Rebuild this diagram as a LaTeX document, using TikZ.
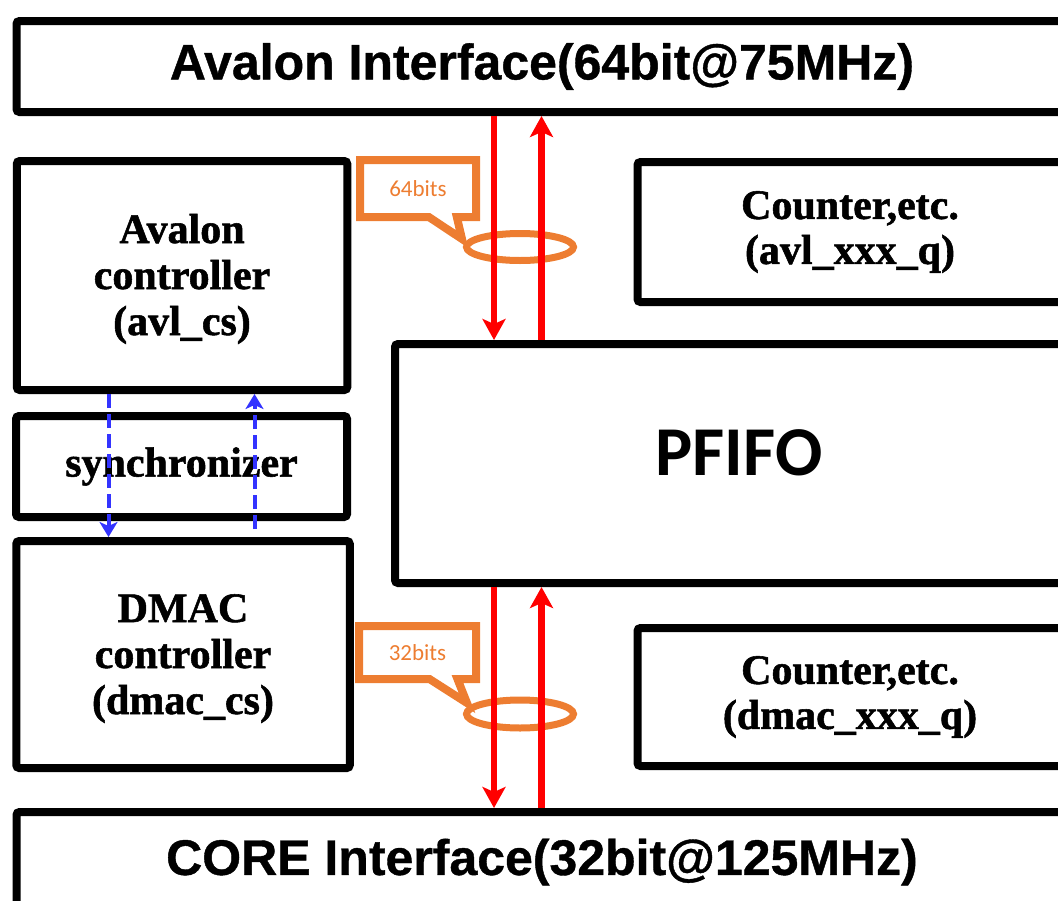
\documentclass[tikz,border=0pt]{standalone}
\usepackage{fontspec}
\setmainfont{Liberation Serif}[BoldFeatures={FakeBold=1.3}]
\newfontfamily\ifcfam{Liberation Sans}[BoldFeatures={FakeBold=0.8}]
\newfontfamily\calfam{Carlito}
\usepackage{tikz}
\usetikzlibrary{arrows.meta,positioning,shapes.geometric,shapes.callouts}
\definecolor{busred}{RGB}{255,0,0}
\definecolor{callorange}{RGB}{237,125,49}
\definecolor{syncblue}{RGB}{51,51,255}
\tikzset{
  blk/.style   ={draw,line width=8pt,rounded corners=3pt,inner sep=0pt,align=center,
                 font=\bfseries\fontsize{42}{45}\selectfont},
  ctl/.style   ={blk,font=\bfseries\fontsize{42}{46}\selectfont,text height=128pt},
  ifc/.style   ={blk,font=\ifcfam\bfseries\fontsize{50}{52}\selectfont},
  fifo/.style  ={blk,font=\calfam\bfseries\fontsize{70}{72}\selectfont,text depth=22pt},
  note/.style  ={rectangle callout,draw=callorange,line width=8pt,line join=miter,
                 inner sep=0pt,callout pointer width=28pt,
                 font=\calfam\fontsize{23}{25}\selectfont,text=callorange},
  ring/.style  ={ellipse,draw=callorange,line width=7pt,inner sep=0pt},
  bus/.style   ={busred,line width=6.5pt,-{Stealth[length=21pt,width=23pt,inset=5pt]}},
  hand/.style  ={syncblue,line width=4pt,dash pattern=on 14pt off 6pt,
                 -{Stealth[length=15pt,width=18pt,inset=4pt]}},
}
\begin{document}
\begin{tikzpicture}[x=1pt,y=-1pt]
  \useasboundingbox (0,0) rectangle (1058,900);
  \clip (0,0) rectangle (1058,900);
  % interfaces top and bottom
  \node[ifc,minimum width=1051pt,minimum height=91pt] (avlif) at (542,66.5){Avalon Interface(64bit@75MHz)};
  \node[ifc,minimum width=1051pt,minimum height=100pt] (coreif) at (542,862){CORE Interface(32bit@125MHz)};
  % left column
  \node[ctl,minimum width=330.5pt,minimum height=229pt] (avlcs) at (182,275.5){Avalon\\controller\\(avl\_cs)};
  \node[blk,minimum width=331pt,minimum height=101pt] (sync) at (181.5,466.5){synchronizer};
  \node[ctl,minimum width=333.5pt,minimum height=227pt] (dmaccs) at (183,654.5){DMAC\\controller\\(dmac\_cs)};
  % fifo and counters
  \node[fifo,minimum width=688pt,minimum height=239pt] (pfifo) at (739,463.5){PFIFO};
  \node[blk,minimum width=425pt,minimum height=140pt] (cntavl) at (850,232){Counter,etc.\\(avl\_xxx\_q)};
  \node[blk,minimum width=425pt,minimum height=138pt] (cntdmac) at (850,697){Counter,etc.\\(dmac\_xxx\_q)};
  % bus width marks
  \node[ring,minimum width=107pt,minimum height=27pt] (bus64) at (520,247){};
  \node[ring,minimum width=107pt,minimum height=28pt] (bus32) at (520,714){};
  \node[note,minimum width=116pt,minimum height=57pt,callout absolute pointer={(462,239)}] (lbl64) at (418,188.5){64bits};
  \node[note,minimum width=117pt,minimum height=53pt,callout absolute pointer={(467,703)}] (lbl32) at (417.5,652.5){32bits};
  % data paths
  \coordinate (rd) at (494,0);
  \coordinate (ru) at (541.5,0);
  \draw[bus] (rd |- avlif.south) -- (rd |- pfifo.north);
  \draw[bus] (ru |- pfifo.north) -- (ru |- avlif.south);
  \draw[bus] (rd |- pfifo.south) -- (rd |- coreif.north);
  \draw[bus] (ru |- coreif.north) -- (ru |- pfifo.south);
  % handshake through synchronizer
  \coordinate (hd) at (108.5,0);
  \coordinate (hu) at (254.5,0);
  \draw[hand] (hd |- avlcs.south) -- (hd |- dmaccs.north);
  \draw[hand,shorten <=8pt] (hu |- dmaccs.north) -- (hu |- avlcs.south);
\end{tikzpicture}
\end{document}
